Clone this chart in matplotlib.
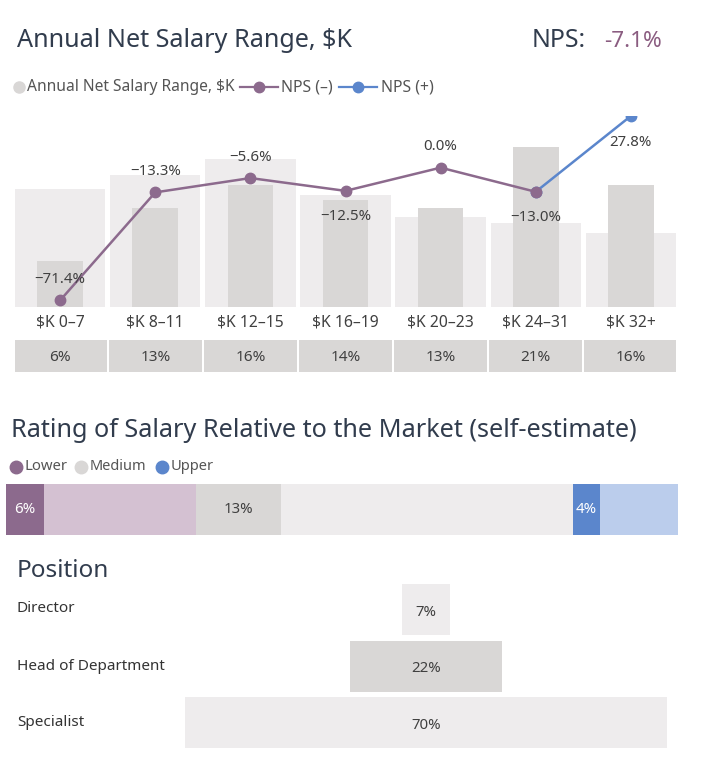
import matplotlib
matplotlib.use('Agg')
import matplotlib.pyplot as plt
import numpy as np
from matplotlib.lines import Line2D

plt.rcParams['font.family'] = ['Noto Sans', 'DejaVu Sans']

W, H = 708, 761

# ---------------- data ----------------
categories = ['$K 0–7', '$K 8–11', '$K 12–15', '$K 16–19', '$K 20–23', '$K 24–31', '$K 32+']
share_pct = [6, 13, 16, 14, 13, 21, 16]
prev_share_pct = [15.4, 17.3, 19.4, 14.7, 11.8, 11.0, 9.7]
nps_neg = [-71.4, -13.3, -5.6, -12.5, 0.0, -13.0, np.nan]
nps_pos = [np.nan, np.nan, np.nan, np.nan, np.nan, -13.0, 27.8]
nps_total = -7.1

rating_labels = ['Lower', 'Medium', 'Upper']
rating_pct = [5.7, 12.7, 4.0]
rating_rest_pct = [22.5, 43.5, 11.6]

positions = ['Director', 'Head of Department', 'Specialist']
position_pct = [7, 22, 70]

# ---------------- style ----------------
C_LIGHT = '#EEECED'
C_GRAY = '#D9D7D6'
C_PURPLE = '#8C6A8D'
C_LPURPLE = '#D4C1D2'
C_BLUE = '#5B86CC'
C_LBLUE = '#BBCDEC'
C_TITLE = '#313C4D'
C_TEXT = '#404040'
C_LEG = '#555555'
C_NPS = '#8A5C80'

fig = plt.figure(figsize=(W / 100, H / 100), dpi=100)
fig.patch.set_facecolor('white')
renderer = fig.canvas.get_renderer()


def fx(x):
    return x / W


def fy(y):
    return 1 - y / H


def text_px(x, y, s, target_w=None, size=11, **kw):
    t = fig.text(fx(x), fy(y), s, fontsize=size, **kw)
    if target_w:
        w = t.get_window_extent(renderer).width
        t.set_fontsize(size * target_w / w)
    return t


def ax_px(l, t, r, b):
    a = fig.add_axes([fx(l), fy(b), (r - l) / W, (b - t) / H])
    a.set_axis_off()
    return a


def dot_px(x, y, color, ms=7.5):
    fig.add_artist(Line2D([fx(x)], [fy(y)], marker='o', ms=ms, color=color,
                          mec=color, transform=fig.transFigure, lw=0))


def legline_px(x1, x2, y, color):
    fig.add_artist(Line2D([fx(x1), fx(x2)], [fy(y), fy(y)], color=color, lw=1.6,
                          transform=fig.transFigure))
    dot_px((x1 + x2) / 2, y, color, ms=7.5)


# ---------------- section 1 ----------------
text_px(17, 47, 'Annual Net Salary Range, $K', target_w=335, size=18,
        color=C_TITLE, va='baseline')
text_px(532, 47, 'NPS:', target_w=54, size=18, color=C_TITLE, va='baseline')
text_px(604, 47, f'{nps_total:.1f}%', target_w=58, size=16, color=C_NPS, va='baseline')

# legend
dot_px(19, 87, C_GRAY, ms=8)
text_px(27, 87, 'Annual Net Salary Range, $K', target_w=208, size=11, color=C_LEG, va='center')
legline_px(240, 278, 87, C_PURPLE)
text_px(281, 87, 'NPS (–)', target_w=52, size=11, color=C_LEG, va='center')
legline_px(339, 377, 87, C_BLUE)
text_px(381, 87, 'NPS (+)', target_w=53, size=11, color=C_LEG, va='center')

x = np.arange(len(categories))
ax = ax_px(15, 116, 676, 307)
ax.set_xlim(-0.475, len(categories) - 0.525)
ax.set_ylim(0, 25.0)
ax.bar(x, prev_share_pct, width=0.95, color=C_LIGHT, zorder=1)
ax.bar(x, share_pct, width=0.48, color=C_GRAY, zorder=2)

ax2 = ax.twinx()
ax2.set_axis_off()
ax2.set_ylim(-75, 27.8)
l1, = ax2.plot(x, nps_pos, color=C_BLUE, lw=1.8, marker='o', ms=7.5, zorder=3)
l2, = ax2.plot(x, nps_neg, color=C_PURPLE, lw=1.8, marker='o', ms=7.5, zorder=4)
for ln in (l1, l2):
    ln.set_clip_on(True)
    ln.set_clip_box(ax2.bbox)

label_side = ['above', 'above', 'above', 'below', 'above', 'below', 'below']
for i in range(len(categories)):
    v = nps_neg[i] if not np.isnan(nps_neg[i]) else nps_pos[i]
    dy = 21 if label_side[i] == 'above' else -26
    s = f'{v:.1f}%'.replace('-', '\u2212')
    ax2.annotate(s, (x[i], v), xytext=(0, dy), textcoords='offset pixels',
                 ha='center', va='center', fontsize=10.8, color=C_TEXT, zorder=5,
                 annotation_clip=False)

# category labels
for i, c in enumerate(categories):
    ax.annotate(c, (x[i], 0), xytext=(0, -15), textcoords='offset pixels',
                ha='center', va='center', fontsize=11.3, color=C_TEXT,
                annotation_clip=False)

# share boxes
axb = ax_px(15, 340, 676, 372)
axb.set_xlim(-0.475, len(categories) - 0.525)
axb.set_ylim(0, 1)
axb.bar(x, [1] * len(categories), width=0.975, color=C_GRAY)
for i, v in enumerate(share_pct):
    axb.text(x[i], 0.45, f'{v}%', ha='center', va='center', fontsize=11, color=C_TEXT)

# ---------------- section 2 ----------------
text_px(11, 437, 'Rating of Salary Relative to the Market (self-estimate)', target_w=625,
        size=18, color=C_TITLE, va='baseline')
dark_cols = [C_PURPLE, C_GRAY, C_BLUE]
light_cols = [C_LPURPLE, C_LIGHT, C_LBLUE]
leg_x = [(16, 25, 43), (81, 90, 57), (162, 171, 43)]
for (cx, tx, tw), lab, col in zip(leg_x, rating_labels, dark_cols):
    dot_px(cx, 467, col, ms=9)
    text_px(tx, 467, lab, target_w=tw, size=11, color=C_LEG, va='center')

axr = ax_px(6, 484, 678, 535)
axr.set_xlim(0, 100)
axr.set_ylim(0, 1)
left = 0
txt_cols = ['white', C_TEXT, 'white']
for i in range(len(rating_labels)):
    axr.barh(0.5, rating_pct[i], left=left, height=1, color=dark_cols[i])
    axr.text(left + rating_pct[i] / 2, 0.5, f'{rating_pct[i]:.0f}%', ha='center',
             va='center', fontsize=10.8, color=txt_cols[i])
    left += rating_pct[i]
    axr.barh(0.5, rating_rest_pct[i], left=left, height=1, color=light_cols[i])
    left += rating_rest_pct[i]

# ---------------- section 3 ----------------
text_px(17, 577, 'Position', target_w=92, size=18, color=C_TITLE, va='baseline')
axp = ax_px(185, 581, 667, 751)
axp.set_xlim(-35, 35)
axp.set_ylim(len(positions) - 0.5, -0.5)
pcols = [C_LIGHT, C_GRAY, C_LIGHT]
for i, (p, v) in enumerate(zip(positions, position_pct)):
    axp.barh(i, v, left=-v / 2, height=0.9, color=pcols[i])
    axp.text(0, i + 0.05, f'{v}%', ha='center', va='center', fontsize=10.8, color=C_TEXT)
lab_y = [609, 666, 723]
for p, yy in zip(positions, lab_y):
    text_px(17, yy, p, size=11, color='#333333', va='center')

fig.savefig('out.png', dpi=100, facecolor='white')
